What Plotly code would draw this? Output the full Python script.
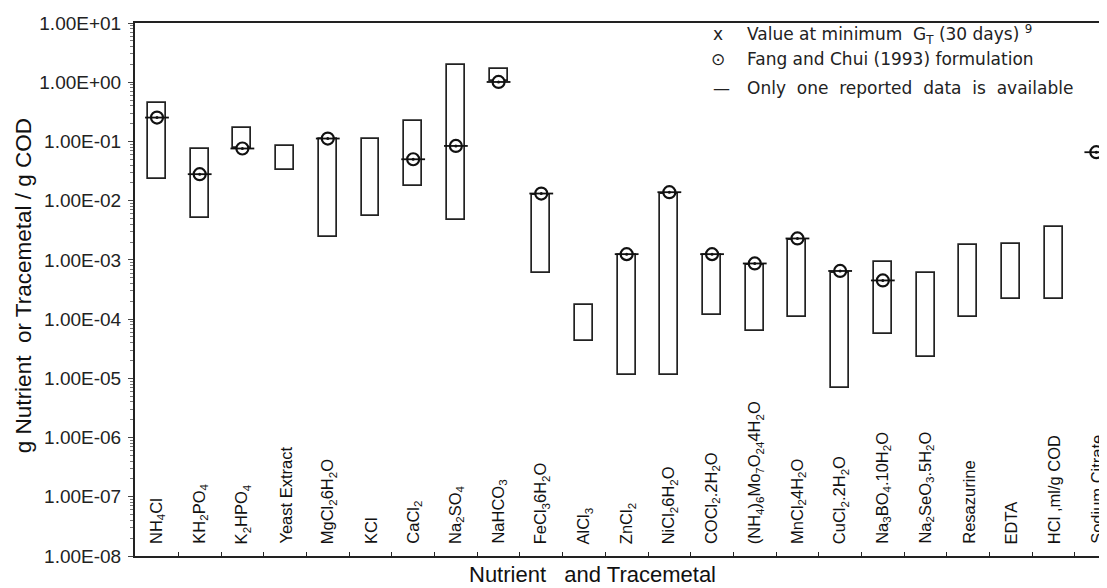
import plotly.graph_objects as go

# ---------------- data ----------------
categories = [
    "NH<sub>4</sub>Cl", "KH<sub>2</sub>PO<sub>4</sub>", "K<sub>2</sub>HPO<sub>4</sub>", "Yeast Extract",
    "MgCl<sub>2</sub>6H<sub>2</sub>O", "KCl", "CaCl<sub>2</sub>", "Na<sub>2</sub>SO<sub>4</sub>",
    "NaHCO<sub>3</sub>", "FeCl<sub>3</sub>6H<sub>2</sub>O", "AlCl<sub>3</sub>", "ZnCl<sub>2</sub>",
    "NiCl<sub>2</sub>6H<sub>2</sub>O", "COCl<sub>2</sub>.2H<sub>2</sub>O",
    "(NH<sub>4</sub>)<sub>6</sub>Mo<sub>7</sub>O<sub>24</sub>4H<sub>2</sub>O",
    "MnCl<sub>2</sub>4H<sub>2</sub>O", "CuCl<sub>2</sub>.2H<sub>2</sub>O",
    "Na<sub>3</sub>BO<sub>4</sub>.10H<sub>2</sub>O", "Na<sub>2</sub>SeO<sub>3</sub>.5H<sub>2</sub>O",
    "Resazurine", "EDTA", "HCl ,ml/g COD", "Sodium Citrate",
]
range_high = [0.447, 0.074, 0.169, 0.084, 0.109, 0.109, 0.222, 1.99, 1.70, 0.0124, 1.72e-4,
              1.2e-3, 0.0129, 1.2e-3, 8.1e-4, 2.2e-3, 6.1e-4, 9.3e-4, 6.0e-4, 1.77e-3,
              1.89e-3, 3.56e-3, None]
range_low = [0.023, 0.0051, 0.078, 0.0336, 0.0024, 0.0055, 0.018, 0.0048, 1.05, 5.9e-4, 4.26e-5,
             1.15e-5, 1.15e-5, 1.17e-4, 6.4e-5, 1.09e-4, 6.8e-6, 5.7e-5, 2.3e-5, 1.08e-4,
             2.15e-4, 2.17e-4, None]
fang_chui = [0.253, 0.028, 0.076, None, 0.112, None, 0.050, 0.084, 1.01, 0.0132, None,
             1.25e-3, 0.0139, 1.25e-3, 8.7e-4, 2.3e-3, 6.5e-4, 4.5e-4, None, None,
             None, None, 0.0658]
y_tick_values = [1e1, 1e0, 1e-1, 1e-2, 1e-3, 1e-4, 1e-5, 1e-6, 1e-7, 1e-8]
y_tick_labels = [f"{v:.2E}" for v in y_tick_values]

# ---------------- geometry helpers (screen pixel -> paper) ----------------
PAGE = 8  # default body margin of the html page
L, R, T, B = 135, 1107, 22.7, 556.0
def px(x):
    return (x - L) / (R - L)
def py(y):
    return (B - y) / (B - T)

xs = list(range(len(categories)))
bx = [i for i, h in zip(xs, range_high) if h is not None]
bh = [h for h in range_high if h is not None]
bl = [l for l in range_low if l is not None]

fig = go.Figure()
fig.add_trace(go.Bar(
    x=bx, y=[h - l for h, l in zip(bh, bl)], base=bl, width=0.42,
    marker=dict(color="white", line=dict(color="#222", width=1.7)),
    showlegend=False, hoverinfo="skip"))

fx = [i for i, v in zip(xs, fang_chui) if v is not None]
fv = [v for v in fang_chui if v is not None]
fig.add_trace(go.Scatter(x=fx, y=fv, mode="markers", showlegend=False, cliponaxis=False,
                         marker=dict(symbol="circle", size=12, color="white",
                                     line=dict(color="#111", width=2.2))))
fig.add_trace(go.Scatter(x=fx, y=fv, mode="markers", showlegend=False, cliponaxis=False,
                         marker=dict(symbol="line-ew", size=17,
                                     line=dict(color="#111", width=1.8))))
fig.add_trace(go.Scatter(x=fx, y=fv, mode="markers", showlegend=False, cliponaxis=False,
                         marker=dict(symbol="circle", size=3, color="#111")))

annotations = []
# category labels (vertical, inside plot)
for i, c in enumerate(categories):
    annotations.append(dict(x=i, xref="x", y=py(546), yref="paper", text=c,
                            textangle=-90, xanchor="center", yanchor="bottom",
                            showarrow=False,
                            font=dict(family="Liberation Sans", size=16.5, color="#111")))
# axis titles
annotations.append(dict(x=px(592), y=py(575), xref="paper", yref="paper",
                        text="Nutrient\u00a0\u00a0\u00a0and Tracemetal", showarrow=False,
                        xanchor="center", yanchor="middle",
                        font=dict(family="Liberation Sans", size=22, color="#111")))
annotations.append(dict(x=px(23), y=py(286), xref="paper", yref="paper",
                        text="g Nutrient\u00a0\u00a0or Tracemetal / g COD", showarrow=False,
                        textangle=-90, xanchor="center", yanchor="middle",
                        font=dict(family="Liberation Sans", size=22.5, color="#111")))
# legend block
leg_font = dict(family="DejaVu Sans", size=17, color="#222")
sp2 = "\u00a0 "
annotations += [
    dict(x=px(718), y=py(34), text="x", xanchor="center"),
    dict(x=px(745), y=py(34), text="Value at minimum\u00a0 G<sub>T</sub> (30 days) <sup>9</sup>",
         xanchor="left"),
    dict(x=px(718), y=py(59), text="\u2299", xanchor="center"),
    dict(x=px(745), y=py(59), text="Fang and Chui (1993) formulation", xanchor="left"),
    dict(x=px(721), y=py(88), text="\u2014", xanchor="center"),
    dict(x=px(745), y=py(88), text=sp2.join(["Only", "one", "reported", "data", "is", "available"]),
         xanchor="left"),
]
for a in annotations[-6:]:
    a.update(xref="paper", yref="paper", yanchor="middle", showarrow=False, font=leg_font)

minor_vals = [m * 10.0 ** e for e in range(-8, 1) for m in range(2, 10)]

fig.update_layout(
    width=1107, height=588,
    margin=dict(l=L - PAGE, r=PAGE, t=T - PAGE, b=588 - (B - PAGE), autoexpand=False),
    plot_bgcolor="white", paper_bgcolor="white",
    annotations=annotations,
    xaxis=dict(range=[-0.515, 22.25], showgrid=False, zeroline=False, automargin=False,
               showline=True, linecolor="#222", linewidth=2, mirror=True,
               tickmode="array", tickvals=[i + 0.5 for i in xs[:-1]], ticktext=["" for _ in xs[:-1]],
               ticks="inside", ticklen=4, tickcolor="#222", tickwidth=1.2),
    yaxis=dict(type="log", range=[-8, 1], showgrid=False, zeroline=False, automargin=False,
               showline=True, linecolor="#222", linewidth=2,
               tickmode="array", tickvals=y_tick_values, ticktext=y_tick_labels,
               ticks="outside", ticklen=5, tickcolor="#444", tickwidth=1,
               ticklabelstandoff=3,
               tickfont=dict(family="Liberation Sans", size=19, color="#222"),
               minor=dict(tickmode="array", tickvals=minor_vals, ticks="outside",
                          ticklen=3, tickcolor="#777", showgrid=False)),
    bargap=0,
)

fig.write_html("out.html")
